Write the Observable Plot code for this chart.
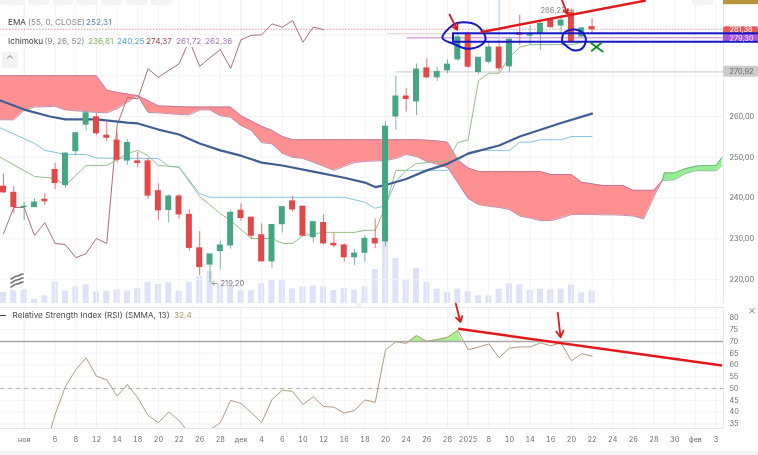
<!DOCTYPE html>
<html><head><meta charset="utf-8">
<script src="https://cdn.jsdelivr.net/npm/d3@7"></script>
<script src="https://cdn.jsdelivr.net/npm/@observablehq/plot@0.6"></script>
<style>
html,body{margin:0;padding:0;background:#fff;overflow:hidden}
#c{position:relative;width:758px;height:455px;overflow:hidden;background:#fff;font-family:Inter,"Noto Sans",sans-serif;filter:blur(.35px)}
#c svg{position:absolute;left:0;display:block;background:transparent;overflow:visible}
.b{position:absolute;background:#f3f3f6;border-radius:3px}
.t{position:absolute;white-space:nowrap;font-size:8.2px;line-height:11px;color:#8a8a92;background:#fff}
</style></head><body><div id="c"></div>
<script>
// --- candles: one value per session
const candleOpen=[242.8,241.3,237.8,237.8,239.6,246.9,243.2,251.5,258.0,259.8,255.3,254.1,249.2,249.0,249.0,241.7,237.1,240.4,235.9,227.7,223.7,227.0,228.4,236.9,235.2,230.9,224.5,233.6,239.2,237.9,230.4,233.9,228.8,228.4,225.5,226.6,230.0,229.4,260.0,264.9,263.7,271.8,269.6,271.3,274.0,280.3,270.9,273.4,276.9,272.3,280.4,279.8,280.3,283.9,282.3,285.4,279.6,281.9];
const candleClose=[241.4,237.8,237.9,238.9,239.2,243.7,250.9,255.9,260.8,255.9,254.8,249.4,253.5,248.6,240.6,237.0,240.4,236.0,227.8,223.1,226.2,228.4,236.4,235.1,230.8,224.5,233.4,237.8,237.2,230.8,234.1,228.9,228.4,225.5,226.4,230.0,228.9,257.5,264.9,264.3,271.5,269.6,270.9,272.7,279.4,272.2,274.4,276.9,271.8,278.8,280.0,280.1,282.7,281.9,283.5,278.2,281.6,281.38];
const candleHigh=[246.0,242.8,239.0,239.9,241.1,248.5,251.2,256.1,261.5,260.7,258.8,255.9,254.3,251.2,249.7,243.5,240.8,240.8,237.1,231.8,226.2,229.4,237.0,238.6,235.3,233.7,233.5,238.0,240.4,237.9,234.3,235.9,231.4,228.8,227.4,230.8,234.9,258.8,269.8,266.8,272.9,274.1,272.1,273.9,280.1,280.7,274.5,278.2,278.6,279.1,284.8,282.3,283.1,284.0,284.8,286.23,281.6,284.0];
const candleLow=[241.1,236.2,234.5,237.7,238.2,242.1,242.4,250.4,256.4,255.3,253.9,248.6,248.0,247.4,239.7,234.5,233.9,234.8,227.0,221.0,219.2,222.4,227.5,234.3,230.0,224.3,222.8,231.4,236.5,230.6,229.0,228.5,227.8,224.3,223.5,224.3,227.6,228.0,256.6,261.1,260.2,269.2,268.6,270.5,273.5,271.8,270.3,272.9,271.0,270.92,277.4,277.4,276.2,281.7,280.3,278.0,279.4,280.3];
const volume=[11,14.3,13.3,4,7.7,21.7,12.3,16.7,18.7,11.7,12.3,13.7,12.3,14.7,21.3,19,20.7,12.3,21.3,26.7,31.7,19.3,17.7,12.7,12.7,19.7,23.7,22.7,14.7,16.7,17.7,16.7,13,15,13.3,16.7,34,62,45,23.3,35,21,14.3,11,14.3,11.7,7.7,7.7,14.3,19.7,18.7,13,14.3,13.7,14.3,18.3,10.7,12.3];
// --- indicator lines (session index, price)
const emaIdx=[-1,2,4.5,6,9,12,13,15,17,19,21,23,25,27,30,33,35,36,37,39,41,43,45,48,50,54,57];
const emaVal=[264.6,261.7,260.0,259.3,259.3,258.5,258.3,256.8,255.6,253.4,251.7,250.4,248.7,248.0,246.5,245.0,243.8,242.7,243.2,244.7,246.8,248.4,250.9,252.9,255.1,258.4,260.7];
const tenkanIdx=[-1,3,5,6,8,10,12,13,14,15,17,19,21,22,24,26,27,28,29,31,34,35,36,37,38,39,40,41,43,44,45,46,47,48,49,50,51,55,56];
const tenkanVal=[251,245.3,244.8,243.1,248.0,248.0,250.9,251.7,250.4,248.0,247.6,240.4,236.2,234.5,230.1,230.1,228.9,228.9,230.8,231.6,231.6,232.1,232.1,237.9,246.8,246.8,248.5,248.7,249.2,253.6,254.3,268.8,270.6,270.6,274.5,277.0,277.6,277.6,278.1];
const kijunIdx=[-1,3,4,6,8,9,15,16,17,19,20,33,35,36,37,38,39,43,45,46,49,50,51,52,54,55,57];
const kijunVal=[258,253.4,251.7,250.7,250.7,249.8,249.7,247.8,247.6,241.1,240.2,240.2,239.0,237.5,238.2,244.1,246.8,246.8,251.2,251.7,251.7,253.7,253.7,254.3,254.3,255.1,255.1];
const chikouVal=[231.3,237.7,237.7,230.8,234.0,228.9,228.6,225.4,226.4,230.1,228.9,257.8,264.7,264.3,271.7,269.6,271.3,272.9,278.6,272.3,274.4,276.4,271.8,278.8,279.9,280.0,282.7,281.9,283.5,278.2,281.9,281.3];
// --- cloud
const cloudIdx=[-1,0,1,2,3,4,5,6,7,8,9,10,11,12,13,14,15,16,17,18,19,20,21,22,23,24,25,26,27,28,29,30,31,32,33,34,35,36,37,38,39,40,41,42,43,44,45,46,47,48,49,50,51,52,53,54,55,56,57,58,59,60,61,62,63,63.8];
const cloudUp=[270,270,270,270,270,270,270,270,270,270,270,266.5,265.9,265.5,265.1,263.9,262.6,262.5,262.4,262.3,262.3,262.3,262.3,262.3,260.2,258.9,257.6,256.6,255.1,254.3,254.3,254.3,254.3,254.3,254.3,254.3,254.3,254.3,254.3,254.3,254.3,254.3,254.2,254.0,253.7,249.4,247.4,246.5,246.5,246.5,246.5,246.5,246.5,246.5,245.8,245.8,245.8,243.9,243.5,243.1,243.1,243.1,241.9,241.9,241.9,244.3];
const cloudDn=[259.2,259.2,259.2,261.5,262.3,262.4,262.5,261.6,261.4,261.2,261.0,260.9,261.9,263.5,265.1,261.0,260.9,260.7,260.5,260.4,261.6,261.6,260.2,259.8,257.8,256.6,253.6,253.3,251.0,250.0,249.7,248.8,247.8,246.8,247.8,248.7,249.0,249.1,249.2,249.7,250.7,250.2,249.0,248.3,247.5,243.8,239.9,238.4,238.0,237.7,237.2,235.6,235.1,234.5,234.5,235.1,236.0,236.0,236.0,235.9,235.9,235.8,235.6,234.9,240.4,244.3];
const greenIdx=[63.8,64,65,66,67,68,69,69.6];
const greenUp=[244.3,246.2,246.2,247.2,247.8,248.0,248.0,250.0];
const greenDn=[244.3,244.3,244.5,246.0,246.7,246.7,246.7,248.0];
// --- RSI
const rsiVal=[30,28,27,26,24,39.0,50.9,58,63.1,55.3,53.7,46.8,51.7,46.1,38.6,35.5,40.1,36.4,31,28,32.5,35.5,45,43.7,39.8,35.5,45.4,49.3,48.8,43.2,46.5,42.4,42.1,39.6,40.7,45.2,44.1,66.5,69.9,69.2,72.5,70.1,70.8,71.8,74.7,66.5,67.6,69.0,63.1,67.2,67.7,67.7,69.4,68.2,69.4,61.8,64.8,63.8];
const overIdx=[39.2,40,41,42,43,44,44.4];
const overVal=[70,72.5,70.1,70.8,71.8,74.7,70];
// --- axes
const dateIdx=[2,5,7,9,11,13,15,17,19,21,23,25,27,29,31,33,35,37,39,41,43,45,47,49,51,53,55,57,59,61,63,65,67,69];
const dateLab=["ноя","6","8","12","14","18","20","22","26","28","дек","4","6","10","12","16","18","20","24","26","28","2025","8","10","14","16","20","22","24","26","28","30","фев","3"];
const priceTicks=[220,230,240,250,260,270,280];
const priceLabels=[220,230,240,250,260];
const rsiTicks=[35,40,45,50,55,60,65,70,75,80];
// --- hand-drawn annotations
const ring1Idx=[42.5,43.46,44.55,45.88,46.68,46.2,44.9,43.58];
const ring1Val=[279.3,282.3,283.1,282.3,279.4,277.4,276.6,277.8];
const ring2Idx=[54.1,54.24,55.1,55.9,56.4,56.05,55.1,54.27];
const ring2Val=[278.2,280.3,281.3,280.9,279.0,276.7,276.3,277.8];

const XD=[-0.2906,73.12], YD=[214.17,288.43], END=69.73, LAB=70.3;
const fmt=v=>v.toFixed(2).replace(".",",");
const idx=candleOpen.map((_,i)=>i);
const up=i=>candleClose[i]>=candleOpen[i];
const GR="#45a585",RD="#e24848";
const zip=(a,b)=>a.map((x,i)=>({x,y:b[i]}));
const base={width:758,marginLeft:0,marginRight:0,marginTop:0,marginBottom:0,
  x:{domain:XD,axis:null},style:{fontFamily:"Inter",background:"transparent"}};
const root=document.getElementById("c");
function add(svg,top){svg.style.top=top+"px";root.appendChild(svg)}
function box(x,y,w,h){const d=document.createElement("div");d.className="b";d.style.cssText=`left:${x}px;top:${y}px;width:${w}px;height:${h}px`;root.appendChild(d);return d}

// volume panel
add(Plot.plot({...base,height:303,y:{domain:[0,303],axis:null},marks:[
  Plot.rectY(idx,{x1:i=>i-.29,x2:i=>i+.29,y1:0,y2:i=>volume[i],fill:"#dde2f7"})
]}),0);

// price panel
const lineM=(xs,ys,stroke,w)=>Plot.line(zip(xs,ys),{x:"x",y:"y",stroke,strokeWidth:w});
add(Plot.plot({...base,height:303,y:{domain:YD,axis:null},marks:[
  Plot.ruleX(dateIdx,{y1:YD[0],y2:YD[1],stroke:i=>[2,23,45].includes(i)?"#e9e9ee":"#f3f3f6",strokeWidth:1}),
  Plot.ruleY(priceTicks,{x1:XD[0],x2:END,stroke:"#f3f3f6"}),
  Plot.ruleX([END],{y1:YD[0],y2:YD[1],stroke:"#e9e9ee"}),
  Plot.areaY(cloudIdx.map((x,i)=>({x,a:cloudUp[i],b:cloudDn[i]})),{x:"x",y1:"a",y2:"b",fill:"#ff9092"}),
  lineM(cloudIdx,cloudUp,"#b0709a",.8),
  lineM(cloudIdx,cloudDn,"#b0709a",.8),
  Plot.areaY(greenIdx.map((x,i)=>({x,a:greenUp[i],b:greenDn[i]})),{x:"x",y1:"a",y2:"b",fill:"#92ee92"}),
  lineM(greenIdx,greenUp,"#6fa878",.8),
  lineM(greenIdx,greenDn,"#6fa878",.8),
  Plot.ruleY([281.38],{x1:XD[0],x2:END,stroke:"#e59a9a",strokeDasharray:"1.5 1.5"}),
  Plot.ruleY([280.3],{x1:37.2,x2:43.6,stroke:"#e8cfcf"}),
  Plot.ruleY([279.3],{x1:39.1,x2:END,stroke:"#d8a8e4",strokeWidth:1.4}),
  Plot.ruleY([270.92],{x1:38,x2:END,stroke:"#c8c8c8"}),
  lineM(chikouVal.map((_,i)=>i),chikouVal,"#ab6f72",1),
  lineM(kijunIdx,kijunVal,"#84c3df",1),
  lineM(tenkanIdx,tenkanVal,"#94c084",1),
  lineM(emaIdx,emaVal,"#3f5f93",2.2),
  Plot.ruleX(idx,{x:i=>i,y1:i=>candleLow[i],y2:i=>candleHigh[i],stroke:i=>up(i)?GR:RD,strokeWidth:1,strokeOpacity:.75}),
  Plot.rect(idx,{x1:i=>i-.29,x2:i=>i+.29,y1:i=>candleOpen[i],y2:i=>candleClose[i],fill:i=>up(i)?GR:RD,insetBottom:-.5,insetTop:-.5}),
  Plot.ruleX([48],{y1:278.6,y2:YD[1],stroke:"#a9cbe9"}),
  Plot.rect([0],{x1:69.73,x2:XD[1],y1:287.4,y2:YD[1],fill:"#b8963c"}),
  Plot.rect([0],{x1:69.73,x2:XD[1],y1:280.1,y2:281.98,fill:"#e85b5b",rx:2}),
  Plot.rect([0],{x1:69.73,x2:XD[1],y1:278.4,y2:280.1,fill:"#a958dc"}),
  Plot.rect([0],{x1:69.73,x2:XD[1],y1:269.6,y2:272.3,fill:"#cbcbcb",rx:2}),
  Plot.rect([0],{x1:43.58,x2:74,y1:278.2,y2:280.27,stroke:"#1616c4",strokeWidth:2,fill:"none"}),
  Plot.line(zip(ring1Idx,ring1Val),{x:"x",y:"y",stroke:"#1616c4",strokeWidth:2,curve:"cardinal-closed"}),
  Plot.line(zip(ring2Idx,ring2Val),{x:"x",y:"y",stroke:"#1616c4",strokeWidth:2,curve:"cardinal-closed"}),
  Plot.link([0],{x1:46.2,y1:280.66,x2:62.2,y2:288.43,stroke:"#e01a1a",strokeWidth:2.4}),
  Plot.arrow([0],{x1:43.2,y1:285,x2:43.94,y2:281.25,stroke:"#e01a1a",strokeWidth:1.8,headLength:5}),
  Plot.arrow([0],{x1:54.1,y1:288.4,x2:54.6,y2:285.2,stroke:"#e01a1a",strokeWidth:1.8,headLength:5}),
  Plot.link([0],{x1:56.8,y1:278.2,x2:58.08,y2:275.8,stroke:"#178a2a",strokeWidth:1.8}),
  Plot.link([0],{x1:56.92,y1:276,x2:57.98,y2:278.2,stroke:"#178a2a",strokeWidth:1.8}),
  Plot.text(priceLabels,{x:LAB,y:d=>d,text:fmt,textAnchor:"start",fontSize:7.4,fill:"#6b6b73"}),
  Plot.text([281.38],{x:LAB,y:d=>d,text:fmt,textAnchor:"start",fontSize:7.4,fill:"#fff"}),
  Plot.text([279.30],{x:LAB,y:d=>d-.15,text:fmt,textAnchor:"start",fontSize:7.4,fill:"#f2e2fb"}),
  Plot.text([270.92],{x:LAB,y:d=>d,text:fmt,textAnchor:"start",fontSize:7.4,fill:"#666"}),
  Plot.text(["286,23 →"],{x:52,y:286,text:d=>d,textAnchor:"start",fontSize:7.6,fill:"#8a8a8a"}),
  Plot.text(["← 219,20"],{x:20.1,y:219.1,text:d=>d,textAnchor:"start",fontSize:7.6,fill:"#77777f"})
]}),0);

// RSI panel
const RD_Y=[33.04,84.44];
add(Plot.plot({...base,height:148,marginTop:4,marginBottom:23,y:{domain:RD_Y,axis:null},marks:[
  Plot.ruleX(dateIdx,{y1:RD_Y[0],y2:RD_Y[1],stroke:i=>[2,23,45].includes(i)?"#e9e9ee":"#f3f3f6"}),
  Plot.ruleY(rsiTicks,{x1:XD[0],x2:END,stroke:"#f3f3f6"}),
  Plot.ruleX([END],{y1:RD_Y[0],y2:RD_Y[1],stroke:"#e9e9ee"}),
  Plot.ruleY(RD_Y,{x1:XD[0],x2:END,stroke:"#e6e6ea"}),
  Plot.areaY(zip(overIdx,overVal),{x:"x",y1:70,y2:"y",fill:"#a8f292"}),
  Plot.ruleY([70],{x1:XD[0],x2:END,stroke:"#a8a8a8",strokeWidth:1.4}),
  Plot.ruleY([50],{x1:XD[0],x2:END,stroke:"#b5b5b5",strokeWidth:1.1,strokeDasharray:"4 4"}),
  Plot.line(zip(idx,rsiVal),{x:"x",y:"y",stroke:"#b49a7c",strokeWidth:1,clip:true}),
  Plot.link([0],{x1:44.04,y1:75.4,x2:69.6,y2:59.8,stroke:"#e01a1a",strokeWidth:2.4}),
  Plot.arrow([0],{x1:43.8,y1:86.1,x2:44.26,y2:78.2,stroke:"#e01a1a",strokeWidth:1.8,headLength:6}),
  Plot.arrow([0],{x1:53.68,y1:82.2,x2:53.95,y2:71.8,stroke:"#e01a1a",strokeWidth:1.8,headLength:6}),
  Plot.text(rsiTicks,{x:LAB,y:d=>d,text:d=>String(d),textAnchor:"start",fontSize:7.4,fill:"#6b6b73"}),
  Plot.axisX({ticks:dateIdx,tickFormat:i=>dateLab[dateIdx.indexOf(i)],tickSize:0,tickPadding:8,fontSize:7.2,fill:"#6b6b73",stroke:"none",label:null,anchor:"bottom"})
]}),303);

// chrome
[[0,25],[28,21],[53,20],[77,20],[101,21],[126,21],[151,21],[692,21]].forEach(([x,w])=>box(x,-3,w,8));
const tog=box(2,52,16,16);tog.innerHTML='<span style="position:absolute;left:4px;top:1px;font-size:10px;color:#888">⌃</span>';
box(355,303,7,4);
const bot=box(0,451,758,4);bot.style.borderRadius="0";
const logo=document.createElement("div");
logo.style.cssText="position:absolute;left:7px;top:270px;width:21px;height:21px;border-radius:50%;background:rgba(255,255,255,.9)";
logo.innerHTML='<svg width="21" height="21" viewBox="0 0 21 21" fill="none" stroke="#6e6e74" stroke-width="1.7" stroke-linecap="round"><path d="M4 9c3-1 3-3 6-3s3-2 6-2"/><path d="M4 13c3-1 3-3 6-3s3-2 6-2"/><path d="M4 17c3-1 3-3 6-3s3-2 6-2"/></svg>';
root.appendChild(logo);
// legend
function txt(x,y,s,col,fs){const d=document.createElement("div");d.className="t";d.textContent=s;d.style.left=x+"px";d.style.top=(y-5.5)+"px";if(col)d.style.color=col;if(fs)d.style.fontSize=fs+"px";root.appendChild(d)}
txt(8,22,"EMA","#3c3c44");txt(28,22,"(55, 0, CLOSE)");txt(86,22,"252,31","#5b86b0");
txt(8,41,"Ichimoku","#3c3c44");txt(44.5,41,"(9, 26, 52)");txt(88,41,"236,81","#7cb45a");txt(117,41,"240,25","#4ea9d8");txt(146,41,"274,37","#a14a4a");txt(176,41,"261,72","#a878c4");txt(205,41,"262,36","#a878c4");
const dash=box(0,314.5,6,1.6);dash.style.background="#333";
txt(12.5,315,"Relative Strength Index (RSI) (SMMA, 13)","#4a4a52");txt(174,315,"32,4","#b49a6c");
const x=document.createElement("div");x.className="t";x.textContent="×";x.style.cssText="left:748px;top:304px;font-size:12px;color:#999;background:none";root.appendChild(x);
</script></body></html>
